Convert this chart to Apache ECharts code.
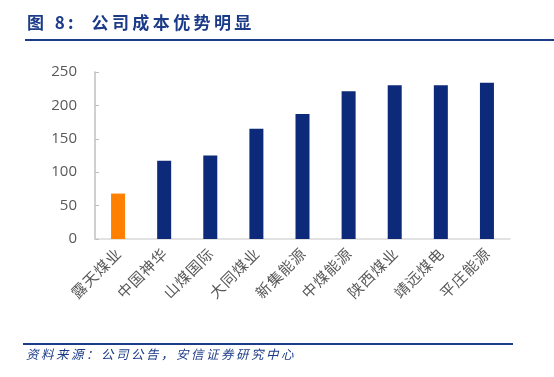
<!DOCTYPE html>
<html>
<head>
<meta charset="utf-8">
<script src="https://cdn.jsdelivr.net/npm/echarts@6/dist/echarts.min.js"></script>
<style>
html,body{margin:0;padding:0;background:#fff;}
#main{width:554px;height:377px;}
</style>
</head>
<body>
<div id="main"></div>
<script>
var companyArr = ['露天煤业', '中国神华', '山煤国际', '大同煤业', '新集能源', '中煤能源', '陕西煤业', '靖远煤电', '平庄能源'];
var costArr = [68, 117, 125, 165, 187, 221, 230, 230, 234];
var barColorArr = ['#FF7F00', '#0D2A7A', '#0D2A7A', '#0D2A7A', '#0D2A7A', '#0D2A7A', '#0D2A7A', '#0D2A7A', '#0D2A7A'];
var titleText = '图 8:  公司成本优势明显';
var sourceText = '资料来源：公司公告，安信证券研究中心';

// spread chars a bit like the original report font
function spaced(s) {
    return s.split('').join('\u2009');
}

var chart = echarts.init(document.getElementById('main'));
var option = {
    animation: false,
    graphic: [{
        type: 'text', left: 27, top: 14,
        style: { text: spaced(titleText), fill: '#1B3A87', font: 'bold 17px "Noto Sans CJK SC"' }
    }, {
        type: 'rect', shape: { x: 25, y: 39, width: 529, height: 2 },
        style: { fill: '#1B3A87' }
    }, {
        type: 'rect', shape: { x: 23, y: 343, width: 490, height: 2 },
        style: { fill: '#1B3A87' }
    }, {
        type: 'text', left: 26, top: 348,
        style: { text: spaced(sourceText), fill: '#1B3A87', font: 'italic 12.5px "Noto Sans CJK SC"' }
    }],
    grid: { left: 95, right: 44, top: 72, bottom: 138 },
    xAxis: {
        type: 'category',
        data: companyArr,
        axisLine: { lineStyle: { color: '#D9D9D9', width: 1.5 } },
        axisTick: { show: false },
        axisLabel: {
            rotate: 45, interval: 0, margin: 12,
            color: '#595959', fontSize: 15, fontFamily: 'Noto Sans CJK SC',
            formatter: function(v) { return v.split('').join('\u200A'); }
        }
    },
    yAxis: {
        type: 'value', min: 0, max: 250, interval: 50,
        axisLine: { show: true, lineStyle: { color: '#BFBFBF', width: 1.5 } },
        axisTick: { show: true, inside: true, length: 4, lineStyle: { color: '#BFBFBF' } },
        splitLine: { show: false },
        axisLabel: { color: '#595959', fontSize: 15, margin: 18, fontFamily: 'Open Sans' }
    },
    series: [{
        type: 'bar',
        barWidth: 14,
        data: costArr.map(function(v, i) {
            return { value: v, itemStyle: { color: barColorArr[i] } };
        })
    }]
};
chart.setOption(option);
</script>
</body>
</html>
